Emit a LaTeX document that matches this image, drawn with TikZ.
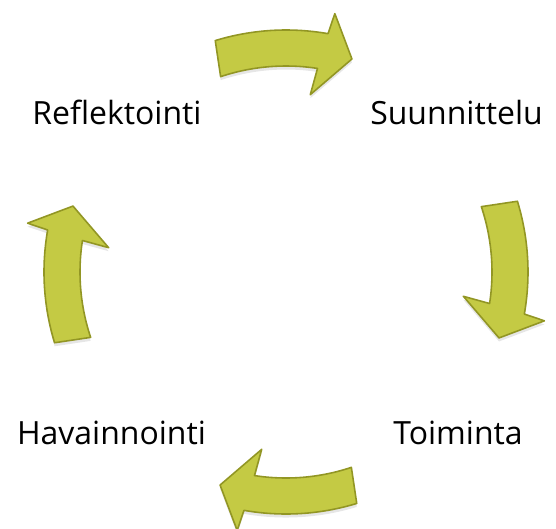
\documentclass[tikz,border=0pt]{standalone}
\usepackage{fontspec}
\setmainfont[Ligatures=NoCommon]{Open Sans}
\usetikzlibrary{shadows}
\definecolor{arrowfill}{RGB}{196,202,68}
\definecolor{arrowedge}{RGB}{146,150,36}

\begin{document}
\begin{tikzpicture}[phase/.style={font=\fontsize{18.2}{22}\selectfont, anchor=base, inner sep=0pt},
                    cyclearrow/.style={fill=arrowfill, draw=arrowedge, line width=0.9pt, line join=round,
                                       drop shadow={opacity=0.2, shadow xshift=0pt, shadow yshift=-2pt}},
                    pics/turn/.style={code={
                        \path[cyclearrow] (107:4.84) arc[start angle=107, end angle=80, radius=4.84]
                            -- (79.3:5.26) -- (72.8:4.46) -- (82.2:3.58) -- (81.2:4.12)
                            arc[start angle=81.2, end angle=108.5, radius=4.12] -- cycle;}}]
  \useasboundingbox (-5.72,-5.12) rectangle (5.4,5.44);

  \node[phase] (refl) at (-3.38,2.96) {Reflektointi};
  \node[phase] (plan) at (3.41,2.96) {Suunnittelu};
  \node[phase] (act) at (3.44,-3.44) {Toiminta};
  \node[phase] (obs) at (-3.49,-3.44) {Havainnointi};

  % the four turning arrows of the cycle
  \begin{scope}[xscale=1.053]
    \pic {turn};
    \pic[rotate=-90] {turn};
    \pic[rotate=180] {turn};
    \pic[rotate=90] {turn};
  \end{scope}
\end{tikzpicture}
\end{document}
